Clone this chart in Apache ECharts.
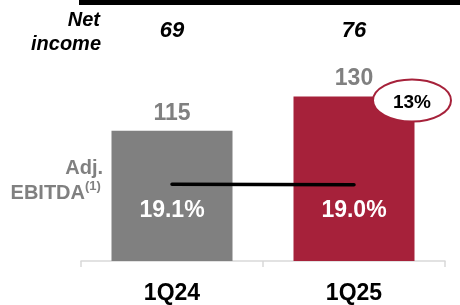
<!DOCTYPE html>
<html>
<head>
<meta charset="utf-8">
<script src="https://cdn.jsdelivr.net/npm/echarts@6/dist/echarts.min.js"></script>
<style>
html, body { margin: 0; padding: 0; background: #fff; }
#main { width: 460px; height: 305px; }
</style>
</head>
<body>
<div id="main"></div>
<script>
var quarters = ['1Q24', '1Q25'];
var adjEbitda = [115, 130];
var ebitdaMargin = [19.1, 19.0];
var netIncome = [69, 76];

var FONT = 'Liberation Sans, Arial, sans-serif';
var GRAY = '#808080';
var RED = '#a6213a';

var chart = echarts.init(document.getElementById('main'));

var barData = adjEbitda.map(function (v, i) {
    return {
        value: v,
        itemStyle: { color: i === 0 ? GRAY : RED }
    };
});

chart.setOption({
    animation: false,
    grid: { left: 81, right: 15, top: 28, bottom: 39 },
    xAxis: {
        type: 'category',
        data: quarters,
        axisLine: { lineStyle: { color: '#d9d9d9', width: 1.5 } },
        axisTick: { show: true, length: 6, lineStyle: { color: '#d9d9d9', width: 1.5 } },
        axisLabel: {
            color: '#000', fontFamily: FONT, fontWeight: 'bold', fontSize: 23, margin: 21
        }
    },
    yAxis: [{
        type: 'value', min: 58, max: 160, show: false
    }, {
        type: 'value', min: 0, max: 58, show: false
    }],
    series: [{
        type: 'bar',
        data: barData,
        barWidth: 121,
        label: {
            show: true,
            position: 'top',
            distance: 6,
            color: GRAY,
            fontFamily: FONT,
            fontWeight: 'bold',
            fontSize: 23
        }
    }, {
        type: 'line',
        yAxisIndex: 1,
        data: ebitdaMargin,
        symbol: 'none',
        z: 5,
        lineStyle: { color: '#000', width: 3.5, cap: 'round' }
    }]
});

// margin text inside bars, net income row, side labels, growth bubble
function place() {
    var g = [];
    g.push({ type: 'rect', shape: { x: 79, y: 0, width: 381, height: 5 }, style: { fill: '#000' } });
    g.push({ type: 'text', x: 100, y: 20, style: { text: 'Net', font: 'italic bold 20px ' + FONT, fill: '#000', align: 'right', verticalAlign: 'middle' } });
    g.push({ type: 'text', x: 101, y: 44, style: { text: 'income', font: 'italic bold 20px ' + FONT, fill: '#000', align: 'right', verticalAlign: 'middle' } });
    g.push({ type: 'text', x: 103, y: 168, style: { text: 'Adj.', font: 'bold 20px ' + FONT, fill: GRAY, align: 'right', verticalAlign: 'middle' } });
    g.push({ type: 'text', x: 85, y: 193, style: { text: 'EBITDA', font: 'bold 20px ' + FONT, fill: GRAY, align: 'right', verticalAlign: 'middle' } });
    g.push({ type: 'text', x: 85, y: 186, style: { text: '(1)', font: 'bold 13px ' + FONT, fill: GRAY, align: 'left', verticalAlign: 'middle' } });
    quarters.forEach(function (q, i) {
        var x = chart.convertToPixel({ xAxisIndex: 0 }, q);
        g.push({ type: 'text', x: x, y: 31, style: { text: String(netIncome[i]), font: 'italic bold 22px ' + FONT, fill: '#000', align: 'center', verticalAlign: 'middle' } });
        g.push({ type: 'text', x: x, y: 211, z: 10, style: { text: ebitdaMargin[i].toFixed(1) + '%', font: 'bold 23px ' + FONT, fill: '#fff', align: 'center', verticalAlign: 'middle' } });
    });
    var last = adjEbitda.length - 1;
    var growth = Math.round((adjEbitda[last] / adjEbitda[0] - 1) * 100);
    var top = chart.convertToPixel({ xAxisIndex: 0, yAxisIndex: 0 }, [quarters[last], adjEbitda[last]]);
    g.push({ type: 'ellipse', z: 10, shape: { cx: top[0] + 58, cy: top[1] + 4, rx: 39, ry: 21 }, style: { fill: '#fff', stroke: RED, lineWidth: 2 } });
    g.push({ type: 'text', z: 11, x: top[0] + 58, y: top[1] + 6, style: { text: growth + '%', font: 'bold 19px ' + FONT, fill: '#000', align: 'center', verticalAlign: 'middle' } });
    chart.setOption({ graphic: g });
}
place();
window.onresize = chart.resize;
</script>
</body>
</html>
